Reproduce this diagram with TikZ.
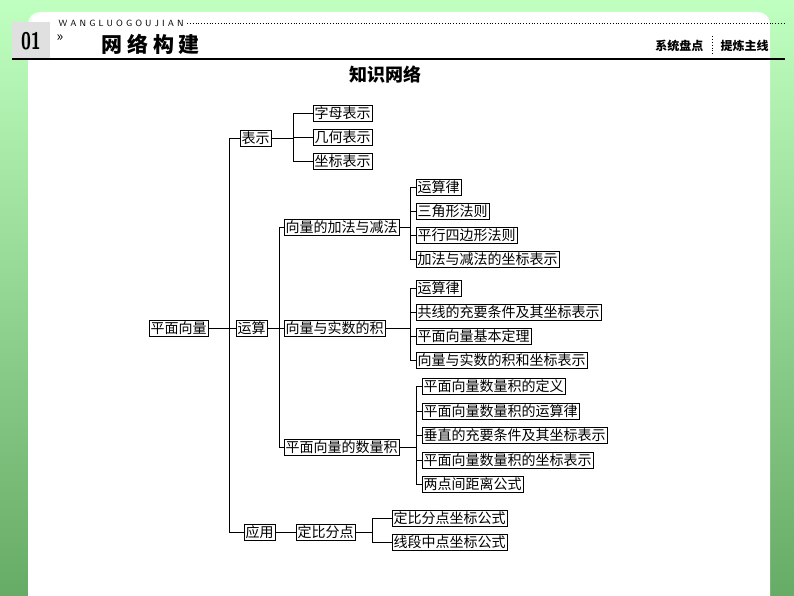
\documentclass[tikz,border=0pt]{standalone}
\usepackage{fontspec}
\newfontfamily\cjk{Noto Sans CJK SC}
\usetikzlibrary{shadows}
\begin{document}
\begin{tikzpicture}[x=1pt,y=-1pt,
  bx/.style={draw,fill=white,line width=0.6pt,inner sep=1.4pt,font=\cjk\fontsize{14}{15}\selectfont,
    general shadow={fill=black!75,shadow xshift=1.2pt,shadow yshift=-1.2pt},anchor=west},
  ln/.style={line width=0.7pt}]
\useasboundingbox (0,0) rectangle (794,596);
\shade[top color=green!25!white,bottom color=green!45!black!60] (0,0) rectangle (794,596);
\fill[white] (28,12) [rounded corners=12pt] rectangle (770,610);
% header
\fill[black!12] (12,22) rectangle (50,58);
\node[font=\sffamily\bfseries\fontsize{24}{24}\selectfont,xscale=0.75] (n01) at (31,41) {01};
\node[font=\cjk\fontsize{14}{14}\selectfont] (ch) at (60,38) {»};
\node[font=\sffamily\fontsize{9}{9}\selectfont,anchor=west] (wl) at (55,23) {W A N G L U O G O U J I A N};
\draw[dotted,line width=0.8pt] (wl.east) -- (785,23);
\node[font=\cjk\bfseries\fontsize{21}{21}\selectfont,anchor=west] (tt) at (98,44) {网 络 构 建};
\node[font=\cjk\bfseries\fontsize{12}{12}\selectfont,anchor=east] (r1) at (707,46) {系统盘点};
\node[font=\cjk\bfseries\fontsize{12}{12}\selectfont,anchor=west] (r2) at (717,46) {提炼主线};
\draw[dotted,line width=0.9pt] (712,36) -- (712,56);
\draw[line width=1.8pt] (12,59) -- (785,59);
\node[font=\cjk\bfseries\fontsize{18}{18}\selectfont] (kt) at (385,75) {知识网络};
% tree
\node[bx] (P) at (149,328) {平面向量};
\node[bx] (BS) at (240,138) {表示};
\node[bx] (YS) at (236,328) {运算};
\node[bx] (YY) at (244,532) {应用};
\draw[ln] (P.east) -- (YS.west);
\draw[ln] (BS.west) -- ++(-11,0) |- (YY.west);
\foreach \t/\y [count=\i] in {字母表示/113,几何表示/137,坐标表示/161}{
  \node[bx] (b\i) at (313,\y) {\t};
  \draw[ln] (BS.east) -| ++(22,0) |- (b\i.west);}
\node[bx] (A) at (284,227) {向量的加法与减法};
\node[bx] (S) at (284,328) {向量与实数的积};
\node[bx] (D) at (284,447) {平面向量的数量积};
\draw[ln] (A.west) -- ++(-5,0) |- (D.west);
\draw[ln] (YS.east) -- (S.west);
\foreach \t/\y [count=\i] in {运算律/187,三角形法则/211,平行四边形法则/235,加法与减法的坐标表示/259}{
  \node[bx] (a\i) at (416,\y) {\t};
  \draw[ln] (A.east) -- (410,227) |- (a\i.west);}
\foreach \t/\y [count=\i] in {运算律/288,共线的充要条件及其坐标表示/312,平面向量基本定理/336,向量与实数的积和坐标表示/360}{
  \node[bx] (s\i) at (416,\y) {\t};
  \draw[ln] (S.east) -- (410,328) |- (s\i.west);}
\foreach \t/\y [count=\i] in {平面向量数量积的定义/386,平面向量数量积的运算律/411,垂直的充要条件及其坐标表示/435,平面向量数量积的坐标表示/460,两点间距离公式/484}{
  \node[bx] (d\i) at (422,\y) {\t};
  \draw[ln] (D.east) -- (416,447) |- (d\i.west);}
\node[bx] (DB) at (296,532) {定比分点};
\draw[ln] (YY.east) -- (DB.west);
\foreach \t/\y [count=\i] in {定比分点坐标公式/518,线段中点坐标公式/542}{
  \node[bx] (e\i) at (392,\y) {\t};
  \draw[ln] (DB.east) -- (372,532) |- (e\i.west);}
\end{tikzpicture}
\end{document}
